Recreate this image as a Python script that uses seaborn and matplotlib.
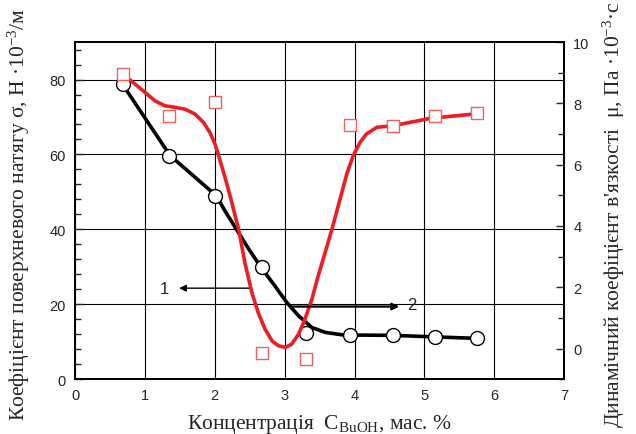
import pandas as pd
import matplotlib
matplotlib.use('Agg')
import matplotlib.pyplot as plt
import seaborn as sns
from matplotlib.ticker import MultipleLocator

# measured points
conc = [0.68, 1.35, 2.0, 2.67, 3.3, 3.93, 4.55, 5.15, 5.75]
sigma = [78.7, 59.7, 49.0, 29.9, 12.2, 11.8, 11.7, 11.3, 10.9]
mu = [8.96, 7.58, 8.03, -0.15, -0.35, 7.29, 7.27, 7.58, 7.68]

# fitted curves
sigma_curve_x = [0.68, 1.36, 2.02, 2.15, 2.29, 2.47, 2.66, 2.86, 3.03, 3.20, 3.39, 3.58,
                 3.84, 4.55, 5.14, 5.74]
sigma_curve_y = [78.7, 59.7, 49.0, 44.8, 40.6, 35.2, 29.9, 24.9, 20.5, 16.9, 13.8, 12.5,
                 11.8, 11.7, 11.3, 10.9]
mu_curve_x = [0.716, 0.859, 1.00, 1.145, 1.288, 1.43, 1.575, 1.718, 1.837, 1.93, 2.004, 2.076,
              2.147, 2.219, 2.34, 2.43, 2.53, 2.62, 2.72, 2.82, 2.91, 3.01, 3.10, 3.20, 3.29,
              3.39, 3.48, 3.58, 3.68, 3.79, 3.89, 3.98, 4.08, 4.17, 4.32, 4.55, 5.08, 5.74]
mu_curve_y = [8.90, 8.63, 8.36, 8.08, 7.92, 7.87, 7.81, 7.65, 7.38, 7.05, 6.67, 6.13,
              5.58, 4.98, 3.90, 2.81, 1.83, 1.18, 0.63, 0.25, 0.09, 0.04, 0.14, 0.47, 0.96,
              1.61, 2.37, 3.14, 3.92, 4.85, 5.70, 6.29, 6.73, 7.00, 7.22, 7.27, 7.51, 7.66]

sns.set_style('white')
plt.rcParams['font.family'] = ['Liberation Sans', 'DejaVu Sans']
plt.rcParams['mathtext.fontset'] = 'custom'
plt.rcParams['mathtext.rm'] = 'Liberation Serif'
plt.rcParams['mathtext.it'] = 'Liberation Serif:italic'

red = '#ee1c24'
sq_red = '#f06060'

fig = plt.figure(figsize=(6.36, 4.35), dpi=100)
ax = fig.add_axes([0.118, 0.126, 0.769, 0.775])
ax2 = ax.twinx()

pts = pd.DataFrame({'c': conc, 'sigma': sigma, 'mu': mu})

line_kw = dict(sort=False, solid_joinstyle='round', solid_capstyle='round', zorder=3)
sns.lineplot(x=sigma_curve_x, y=sigma_curve_y, ax=ax, color='black', lw=2.6, **line_kw)
sns.scatterplot(data=pts, x='c', y='sigma', ax=ax, marker='o', s=100, facecolor='white',
                edgecolor='black', linewidth=1.0, zorder=4)

sns.lineplot(x=mu_curve_x, y=mu_curve_y, ax=ax2, color=red, lw=2.6, **line_kw)
sns.scatterplot(data=pts, x='c', y='mu', ax=ax2, marker='s', s=75, facecolor='white',
                edgecolor=sq_red, linewidth=1.0, zorder=4)
ax2.set_facecolor('none')

ax.set_xlim(0, 7)
ax.set_ylim(0, 90)
ax2.set_ylim(-1, 10)
ax.xaxis.set_major_locator(MultipleLocator(1))
ax.xaxis.set_minor_locator(MultipleLocator(0.5))
ax.yaxis.set_minor_locator(MultipleLocator(4))
ax2.yaxis.set_minor_locator(MultipleLocator(1))
ax.set_yticks([0, 20, 40, 60, 80])
ax2.set_yticks([0, 2, 4, 6, 8, 10])

ax.grid(True, which='major', color='black', lw=0.8)
ax2.grid(False)
for a in (ax, ax2):
    for s in a.spines.values():
        s.set_linewidth(1.3)
        s.set_color('black')
ax.tick_params(axis='both', which='both', direction='in', labelsize=10.5, top=False, right=False,
               pad=6.5)
ax.tick_params(which='major', length=6, width=1)
ax.tick_params(which='minor', length=4, width=1)
ax2.tick_params(axis='y', which='both', direction='in', labelsize=10.5, left=False, right=True,
                pad=6.5)
ax2.tick_params(which='major', length=6, width=1)
ax2.tick_params(which='minor', length=4, width=1)

ax.set_xlabel('Концентрація  $\\mathregular{C_{BuOH}}$, мас. %', family='Liberation Serif',
              fontsize=15.5, labelpad=7)
ax.set_ylabel('Коефіцієнт поверхневого натягу σ, Н ·10$^{-3}$/м', family='Liberation Serif',
              fontsize=15.5)
ax2.set_ylabel("Динамічний коефіцієнт в'язкості  μ, Па ·10$^{-3}$·с", family='Liberation Serif',
               fontsize=15.5, rotation=90)
ax.yaxis.set_label_coords(-0.088, 0.49)
ax2.yaxis.set_label_coords(1.075, 0.49)

# curve labels with arrows
ax.annotate('', xy=(1.45, 24.3), xytext=(2.55, 24.3),
            arrowprops=dict(arrowstyle='-|>', color='black', lw=1.0, mutation_scale=10))
ax.text(1.35, 24.3, '1', fontsize=12, ha='right', va='center')
ax2.annotate('', xy=(4.68, 1.37), xytext=(3.05, 1.37),
             arrowprops=dict(arrowstyle='-|>', color='black', lw=1.6, mutation_scale=10))
ax2.text(4.75, 1.45, '2', fontsize=12, ha='left', va='center')

fig.savefig('out.png', dpi=100)
